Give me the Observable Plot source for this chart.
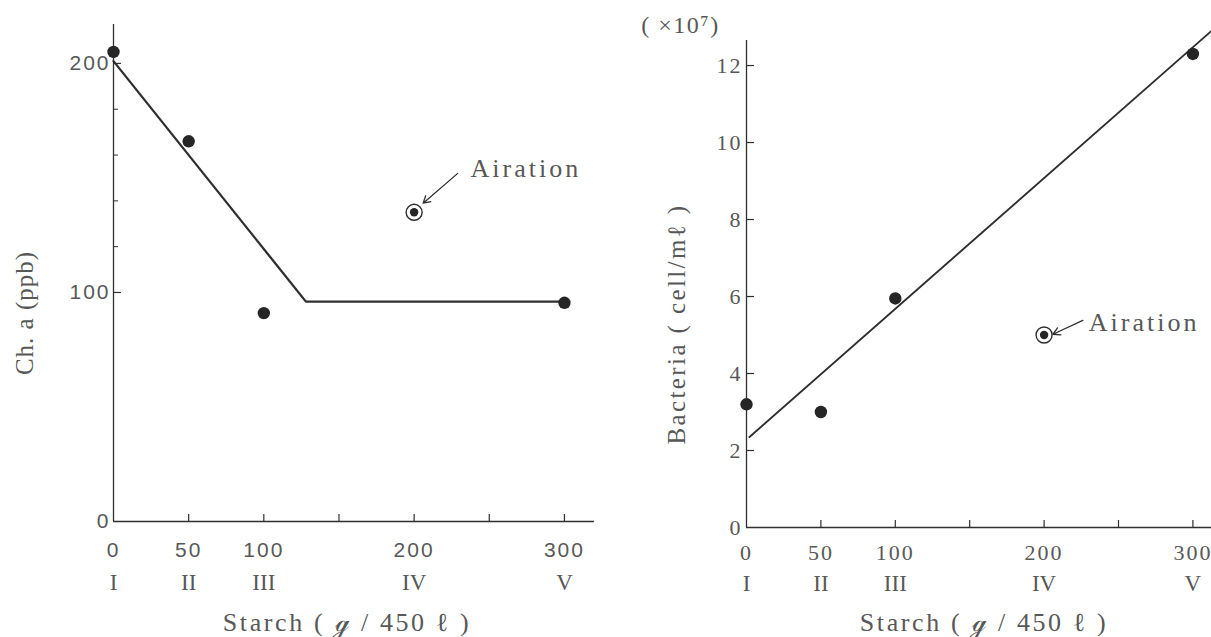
<!DOCTYPE html>
<html><head><meta charset="utf-8">
<script src="https://cdn.jsdelivr.net/npm/d3@7"></script>
<script src="https://cdn.jsdelivr.net/npm/@observablehq/plot@0.6"></script>
<style>
html,body{margin:0;padding:0;background:#fff;}
#wrap{position:relative;width:1211px;height:637px;overflow:hidden;background:#fff;}
#wrap svg{position:absolute;top:0;overflow:visible;}
</style>
</head><body><div id="wrap"></div>
<script>
// ---------- data ----------
const xTicks = [50, 100, 150, 200, 250, 300];
const xLabels = [0, 50, 100, 200, 300];
const romanLabels = ["I", "II", "III", "IV", "V"];

// Left panel: Chlorophyll a (ppb)
const chaX = [0, 50, 100, 300];
const chaY = [205, 166, 91, 95.5];
const chaAirX = [200];
const chaAirY = [135];
const chaFitX = [0, 128, 300];
const chaFitY = [201, 96, 96];
const chaYLabels = [0, 100, 200];
const chaYMajor = [100, 200];
const chaYMinor = [120, 140, 160, 180];
// annotation arrow (start -> end) and label anchor, data units
const chaNoteX = [229, 206, 237.5];
const chaNoteY = [152, 139, 154];

// Right panel: Bacteria (x10^7 cell/ml)
const bacX = [0, 50, 100, 300];
const bacY = [3.2, 3.0, 5.95, 12.3];
const bacAirX = [200];
const bacAirY = [5.0];
const bacFitX = [2, 312.5];
const bacFitY = [2.35, 12.9];
const bacYLabels = [0, 2, 4, 6, 8, 10, 12];
const bacNoteX = [226, 206, 230];
const bacNoteY = [5.38, 5.02, 5.33];

const xTitleText = "Starch ( ℊ / 450 ℓ )";
const chaTitleText = "Ch. a (ppb)";
const bacTitleText = "Bacteria ( cell/mℓ )";
const noteText = "Airation";
const expText = "( ×10⁷)";

// ---------- style ----------
const ink = "#2f2f2f";
const dotInk = "#262626";
const txt = "#585858";
const serif = "Liberation Serif, DejaVu Serif, serif";
const sans = "Liberation Sans, Arial, sans-serif";

function panel(o) {
  return Plot.plot({
    width: o.width, height: 637,
    marginLeft: o.ml, marginRight: o.mr, marginTop: o.mt, marginBottom: o.mb,
    x: {domain: o.xd, axis: null},
    y: {domain: o.yd, axis: null},
    style: {background: "transparent", overflow: "visible"},
    marks: [
      // axes lines
      Plot.ruleX([0], {y1: 0, y2: o.yd[1], stroke: ink, strokeWidth: 1.3}),
      Plot.ruleY([0], {x1: 0, x2: o.xd[1], stroke: ink, strokeWidth: 1.3}),
      // inward ticks
      Plot.ruleX(xTicks, {x: d => d, y1: 0, y2: 0, insetTop: -7, stroke: ink, strokeWidth: 1.2}),
      Plot.ruleY(o.yMajor, {y: d => d, x1: 0, x2: 0, insetRight: -8, stroke: ink, strokeWidth: 1.2}),
      Plot.ruleY(o.yMinor, {y: d => d, x1: 0, x2: 0, insetRight: -5, stroke: ink, strokeWidth: 1}),
      // tick labels
      Plot.text(xLabels, {x: d => d, y: 0, dy: o.numDy, text: d => String(d), fontFamily: o.numFont, fontSize: o.numSize, fill: txt}),
      Plot.text(xLabels, {x: d => d, y: 0, dy: o.romDy, text: (d, i) => romanLabels[i], fontFamily: serif, fontSize: 23, fill: txt}),
      Plot.text(o.yLabels, {x: 0, y: d => d, dx: o.yLabDx, textAnchor: "end", text: d => String(d), fontFamily: o.numFont, fontSize: o.numSize, fill: txt}),
      // titles
      Plot.text([o.xTitle], {frameAnchor: "bottom", textAnchor: "middle", lineAnchor: "middle", dx: o.xtDx, dy: o.xtDy, text: d => d, fontFamily: serif, fontSize: 26, fill: txt}),
      Plot.text([o.yTitle], {frameAnchor: "left", textAnchor: "middle", lineAnchor: "middle", dx: o.ytDx, dy: o.ytDy, rotate: -90, text: d => d, fontFamily: serif, fontSize: 25, fill: txt}),
      ...(o.extra || []),
      // fit line
      Plot.line(o.fitY, {x: o.fitX, y: o.fitY, stroke: ink, strokeWidth: o.lineW}),
      // data points
      Plot.dot(o.ptY, {x: o.ptX, y: o.ptY, r: 6.2, fill: dotInk, stroke: "none"}),
      // aeration point
      Plot.dot(o.airY, {x: o.airX, y: o.airY, r: 8, fill: "#fff", stroke: ink, strokeWidth: 1.4}),
      Plot.dot(o.airY, {x: o.airX, y: o.airY, r: 4.2, fill: dotInk, stroke: "none"}),
      Plot.arrow([0], {x1: [o.noteX[0]], y1: [o.noteY[0]], x2: [o.noteX[1]], y2: [o.noteY[1]], stroke: ink, strokeWidth: 1.3, headLength: 9}),
      Plot.text([noteText], {x: [o.noteX[2]], y: [o.noteY[2]], textAnchor: "start", text: d => d, fontFamily: serif, fontSize: 26, fill: txt})
    ]
  });
}

// letter spacing (Plot has no option for it): applied to the rendered text
function spacing(svg) {
  d3.select(svg).selectAll("text").each(function () {
    const t = this.textContent;
    let ls = null;
    if (/^\d+$/.test(t)) ls = "2px";
    else if (t === noteText) ls = "3px";
    else if (t === xTitleText) ls = "2.6px";
    else if (t === bacTitleText) ls = "2.4px";
    else if (t === chaTitleText) ls = "1px";
    else if (t === expText) ls = "1.5px";
    if (ls) this.style.letterSpacing = ls;
  });
  return svg;
}

const left = spacing(panel({
  width: 610, ml: 113, mr: 16, mt: 24, mb: 116,
  xd: [0, 320], yd: [0, 217],
  yMajor: chaYMajor, yMinor: chaYMinor, yLabels: chaYLabels,
  numFont: sans, numSize: 21, numDy: 29, romDy: 61, yLabDx: -3,
  xTitle: xTitleText, xtDx: -7, xtDy: 101,
  yTitle: chaTitleText, ytDx: -89, ytDy: 40,
  fitX: chaFitX, fitY: chaFitY, lineW: 2.3,
  ptX: chaX, ptY: chaY, airX: chaAirX, airY: chaAirY,
  noteX: chaNoteX, noteY: chaNoteY
}));
left.style.left = "0px";

const right = spacing(panel({
  width: 601, ml: 136, mr: 0, mt: 40, mb: 110,
  xd: [0, 312.5], yd: [0, 12.65],
  yMajor: bacYLabels.slice(1), yMinor: [], yLabels: bacYLabels,
  numFont: serif, numSize: 22, numDy: 25, romDy: 56, yLabDx: -4,
  xTitle: xTitleText, xtDx: 5, xtDy: 95,
  yTitle: bacTitleText, ytDx: -70, ytDy: 40,
  fitX: bacFitX, fitY: bacFitY, lineW: 1.9,
  ptX: bacX, ptY: bacY, airX: bacAirX, airY: bacAirY,
  noteX: bacNoteX, noteY: bacNoteY,
  extra: [Plot.text([expText], {frameAnchor: "top-left", textAnchor: "middle", lineAnchor: "middle", dx: -66, dy: -15, text: d => d, fontFamily: serif, fontSize: 24, fill: txt})]
}));
right.style.left = "610px";

const wrap = document.getElementById("wrap");
wrap.appendChild(left);
wrap.appendChild(right);
</script></body></html>
